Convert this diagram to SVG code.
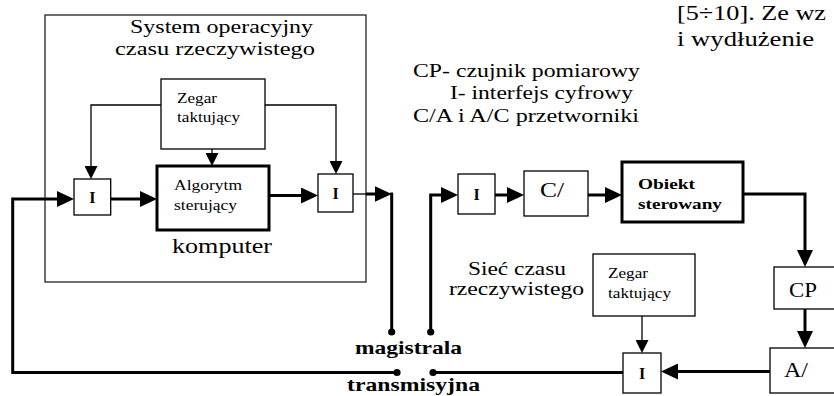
<svg xmlns="http://www.w3.org/2000/svg" width="834" height="396" viewBox="0 0 834 396">
  <style>
    .t { font-family: "Liberation Serif", "Times New Roman", serif; fill: #000; }
    .b { font-weight: bold; }
    .box { fill: #fff; stroke: #000; stroke-width: 1.3; }
    .frame { fill: none; stroke: #222; stroke-width: 1.3; }
    .thick { fill: #fff; stroke: #000; stroke-width: 3; }
    .w { fill: none; stroke: #000; stroke-width: 3; }
    .n { fill: none; stroke: #000; stroke-width: 1.3; }
    .dot { fill: #000; }
  </style>
  <defs>
    <!-- heavy arrowhead: tip sits 7px past the end of the line -->
    <marker id="ah" markerUnits="userSpaceOnUse" markerWidth="17" markerHeight="16" viewBox="0 0 17 16" refX="10" refY="8" orient="auto">
      <path d="M0,0 L17,8 L0,16 z" fill="#000"/>
    </marker>
    <!-- light arrowhead: tip sits 5px past the end of the line -->
    <marker id="as" markerUnits="userSpaceOnUse" markerWidth="13" markerHeight="13" viewBox="0 0 13 13" refX="8" refY="6.5" orient="auto">
      <path d="M0,0 L13,6.5 L0,13 z" fill="#000"/>
    </marker>
  </defs>

  <rect width="834" height="396" fill="#fff"/>

  <!-- page text running past the figure -->
  <g id="page-text">
    <text class="t" x="677" y="20" font-size="21" textLength="149" lengthAdjust="spacingAndGlyphs">[5÷10]. Ze wz</text>
    <text class="t" x="677" y="46" font-size="21" textLength="137" lengthAdjust="spacingAndGlyphs">i wydłużenie</text>
  </g>

  <!-- computer frame -->
  <g id="computer">
    <rect class="frame" x="45" y="15" width="321" height="267"/>
    <text class="t" x="130" y="33" font-size="19" textLength="183" lengthAdjust="spacingAndGlyphs">System operacyjny</text>
    <text class="t" x="115" y="55" font-size="19" textLength="200" lengthAdjust="spacingAndGlyphs">czasu rzeczywistego</text>
    <text class="t" x="172" y="253" font-size="21" textLength="100" lengthAdjust="spacingAndGlyphs">komputer</text>
  </g>

  <!-- legend -->
  <g id="legend">
    <text class="t" x="413" y="77" font-size="19" textLength="227" lengthAdjust="spacingAndGlyphs">CP- czujnik pomiarowy</text>
    <text class="t" x="450" y="99" font-size="19" textLength="183" lengthAdjust="spacingAndGlyphs">I- interfejs cyfrowy</text>
    <text class="t" x="413" y="121.5" font-size="19" textLength="226" lengthAdjust="spacingAndGlyphs">C/A i A/C przetworniki</text>
  </g>

  <!-- connectors -->
  <g id="connectors">
    <!-- return path from the bus into the computer -->
    <path class="w" d="M397,372.5 H12.7 V199 H67" marker-end="url(#ah)"/>
    <path class="w" d="M110.7,199 H150" marker-end="url(#ah)"/>
    <path class="w" d="M269,195.5 H311" marker-end="url(#ah)"/>
    <path class="n" d="M353,194 H367"/>
    <path class="w" d="M366,194 H384.7" marker-end="url(#ah)"/>
    <path class="w" d="M391.7,192.5 V332"/>
    <!-- clock lines inside the computer -->
    <path class="n" d="M161,105 H91 V174" marker-end="url(#as)"/>
    <path class="n" d="M265,105 H336 V169" marker-end="url(#as)"/>
    <path class="n" d="M212,149 V161" marker-end="url(#as)"/>
    <!-- plant side -->
    <path class="w" d="M430.7,332 V195 H451" marker-end="url(#ah)"/>
    <path class="w" d="M495,195 H517" marker-end="url(#ah)"/>
    <path class="w" d="M588,195 H615" marker-end="url(#ah)"/>
    <path class="w" d="M743,194 H805 V260" marker-end="url(#ah)"/>
    <path class="w" d="M805,309 V341" marker-end="url(#ah)"/>
    <path class="w" d="M770,371.5 H668" marker-end="url(#ah)"/>
    <path class="w" d="M623,372.5 H433" stroke-width="2.6"/>
    <path class="n" d="M642,316 V348" marker-end="url(#as)"/>
    <!-- bus terminals -->
    <circle class="dot" cx="391.7" cy="332" r="3.6"/>
    <circle class="dot" cx="430.7" cy="332" r="3.6"/>
    <circle class="dot" cx="397" cy="372.5" r="3.6"/>
    <circle class="dot" cx="433" cy="372.5" r="3.6"/>
  </g>

  <g id="bus-label">
    <text class="t b" x="355" y="354" font-size="19" textLength="107" lengthAdjust="spacingAndGlyphs">magistrala</text>
    <text class="t b" x="347" y="391" font-size="19" textLength="133" lengthAdjust="spacingAndGlyphs">transmisyjna</text>
  </g>

  <g id="clock-pc">
    <rect class="box" x="161" y="79" width="104" height="70"/>
    <text class="t" x="177" y="103" font-size="14" textLength="40" lengthAdjust="spacingAndGlyphs">Zegar</text>
    <text class="t" x="177" y="122" font-size="14" textLength="63" lengthAdjust="spacingAndGlyphs">taktujący</text>
  </g>

  <g id="if-in">
    <rect class="box" x="74" y="179" width="36.7" height="36"/>
    <text class="t b" x="92.3" y="203" font-size="16" text-anchor="middle">I</text>
  </g>

  <g id="algorithm">
    <rect class="thick" x="157" y="166" width="112" height="64"/>
    <text class="t" x="174" y="190" font-size="14" textLength="68" lengthAdjust="spacingAndGlyphs">Algorytm</text>
    <text class="t" x="174" y="210" font-size="14" textLength="63" lengthAdjust="spacingAndGlyphs">sterujący</text>
  </g>

  <g id="if-out">
    <rect class="box" x="318" y="174" width="35" height="38"/>
    <text class="t b" x="335.5" y="199" font-size="16" text-anchor="middle">I</text>
  </g>

  <g id="if-plant">
    <rect class="box" x="458" y="174" width="37" height="40"/>
    <text class="t b" x="476.5" y="200" font-size="16" text-anchor="middle">I</text>
  </g>

  <g id="dac">
    <rect class="box" x="524" y="171" width="64" height="45"/>
    <text class="t" x="540" y="197" font-size="22" textLength="24" lengthAdjust="spacingAndGlyphs">C/</text>
  </g>

  <g id="plant">
    <rect class="thick" x="622" y="162" width="121" height="60"/>
    <text class="t b" x="638" y="189" font-size="15.5" textLength="57" lengthAdjust="spacingAndGlyphs">Obiekt</text>
    <text class="t b" x="638" y="209" font-size="15.5" textLength="84" lengthAdjust="spacingAndGlyphs">sterowany</text>
  </g>

  <g id="sensor">
    <rect class="box" x="774" y="267" width="64" height="42"/>
    <text class="t" x="789" y="297" font-size="22" textLength="28" lengthAdjust="spacingAndGlyphs">CP</text>
  </g>

  <g id="adc">
    <rect class="box" x="770" y="348" width="70" height="45"/>
    <text class="t" x="784" y="377" font-size="22" textLength="24" lengthAdjust="spacingAndGlyphs">A/</text>
  </g>

  <g id="network-label">
    <text class="t" x="468" y="275" font-size="19" textLength="98" lengthAdjust="spacingAndGlyphs">Sieć czasu</text>
    <text class="t" x="449" y="295" font-size="19" textLength="135" lengthAdjust="spacingAndGlyphs">rzeczywistego</text>
  </g>

  <g id="clock-net">
    <rect class="box" x="593" y="254" width="102" height="62"/>
    <text class="t" x="608" y="278" font-size="14" textLength="40" lengthAdjust="spacingAndGlyphs">Zegar</text>
    <text class="t" x="608" y="298" font-size="14" textLength="63" lengthAdjust="spacingAndGlyphs">taktujący</text>
  </g>

  <g id="if-net">
    <rect class="box" x="623" y="353" width="38" height="40"/>
    <text class="t b" x="642" y="379" font-size="16" text-anchor="middle">I</text>
  </g>
</svg>
